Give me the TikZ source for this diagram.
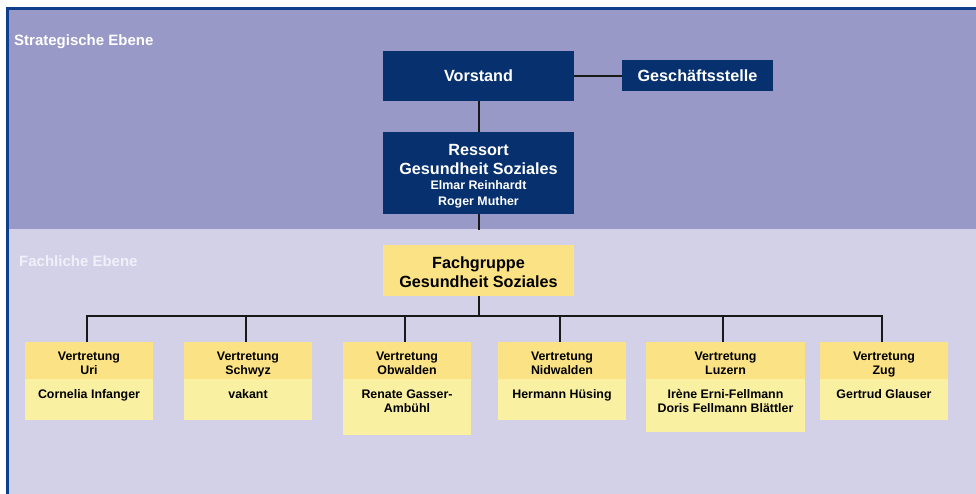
\documentclass[tikz,border=0pt]{standalone}
\usepackage{fontspec}
\setmainfont{Liberation Sans}
\usetikzlibrary{positioning}
\definecolor{bandtop}{RGB}{153,153,199}
\definecolor{bandlow}{RGB}{211,209,232}
\definecolor{frameblue}{RGB}{14,62,140}
\definecolor{navy}{RGB}{6,48,110}
\definecolor{headyellow}{RGB}{251,226,132}
\definecolor{bodyyellow}{RGB}{250,240,162}
\definecolor{palelabel}{RGB}{240,240,250}
\newcommand{\bigfont}{\fontsize{16.2}{19}\selectfont\bfseries}
\newcommand{\smallfont}{\fontsize{12.4}{14}\selectfont\bfseries}
\newcommand{\levelfont}{\fontsize{15}{18}\selectfont\bfseries}
\begin{document}
\begin{tikzpicture}[x=1pt,y=-1pt,
  conn/.style={line width=2pt,black!90},
  navybox/.style={fill=navy,text=white,align=center,inner sep=0pt,font=\bigfont},
  headbox/.style={fill=headyellow,align=center,inner sep=0pt,minimum height=37pt,font=\smallfont},
  bodybox/.style={fill=bodyyellow,inner sep=0pt},
  vname/.style={align=center,inner sep=0pt,font=\smallfont},
  level/.style={anchor=west,inner sep=0pt,font=\levelfont}]
\useasboundingbox (0,0) rectangle (976,494);
\fill[bandtop] (6,8) rectangle (976,229);
\fill[bandlow] (6,229) rectangle (976,494);
\draw[frameblue,line width=2.7pt] (7.3,494) -- (7.3,8.7) -- (976,8.7);
\node[level,text=white] (strat) at (14,42) {Strategische Ebene};
\node[level,text=palelabel] (fachl) at (19,261) {Fachliche Ebene};

\node[navybox,minimum width=191pt,minimum height=50pt] (vorstand) at (478.5,76) {Vorstand};
\node[navybox,minimum width=151pt,minimum height=31pt] (gst) at (697.5,75.5) {Geschäftsstelle};
\node[navybox,minimum width=191pt,minimum height=82pt] (ressort) at (478.5,173)
  {\rule{0pt}{17.7pt}Ressort\\Gesundheit Soziales\\[-3.3pt]{\smallfont Elmar Reinhardt}\\[-3pt]{\smallfont Roger Muther}};
\node[navybox,fill=headyellow,text=black,minimum width=191pt,minimum height=51pt] (fachgr) at (478.5,270.5)
  {\rule{0pt}{15.7pt}Fachgruppe\\Gesundheit Soziales};
\coordinate (cut) at (478.5,230.5);
\coordinate (bus) at (0,316);

\draw[conn] (vorstand.east) -- (vorstand.east -| gst.west);
\draw[conn] (vorstand) -- (ressort);
\draw[conn] (ressort) -- (cut);
\draw[conn] (fachgr) -- (fachgr.south |- bus);

\foreach \key/\cx/\w/\h/\who in {Uri/89/128/41/Cornelia Infanger,
    Schwyz/248/128/41/vakant,
    Obwalden/407/128/56/Renate Gasser-\\Ambühl,
    Nidwalden/562/128/41/Hermann Hüsing,
    Luzern/725.5/159/53/Irène Erni-Fellmann\\Doris Fellmann Blättler,
    Zug/884/128/41/Gertrud Glauser}{
  \node[headbox,minimum width=\w pt] (h\key) at (\cx,360.5)
    {\rule{0pt}{16.8pt}Vertretung\\\key\rule[-3pt]{0pt}{3pt}};
  \node[bodybox,minimum width=\w pt,minimum height=\h pt,below=0pt of h\key] (b\key) {};
  \node[vname,below=10pt of b\key.north] (n\key) {\who};
  \draw[conn] ([xshift=-2.5pt]h\key.north) -- ([xshift=-2.5pt]h\key.north |- bus);
}
\draw[conn,line cap=rect] ([xshift=-2.5pt]hUri.north |- bus) -- ([xshift=-2.5pt]hZug.north |- bus);
\end{tikzpicture}
\end{document}
